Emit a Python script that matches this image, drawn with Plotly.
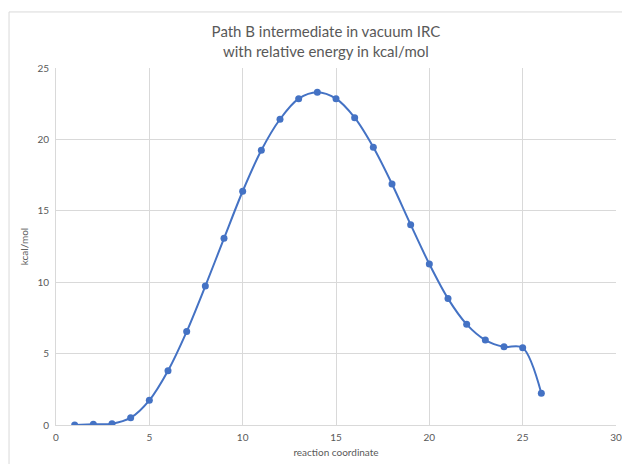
import plotly.graph_objects as go

# IRC steps and relative energies (kcal/mol)
steps = list(range(1, 27))
energy = [0.0, 0.05, 0.09, 0.51, 1.73, 3.80, 6.54, 9.73, 13.07, 16.37,
          19.24, 21.41, 22.85, 23.30, 22.85, 21.52, 19.45, 16.88, 14.03, 11.27,
          8.85, 7.05, 5.95, 5.48, 5.41, 2.22]

x_ticks = [0, 5, 10, 15, 20, 25, 30]
y_ticks = [0, 5, 10, 15, 20, 25]

title_lines = ["Path B intermediate in vacuum IRC", "with relative energy in kcal/mol"]

BLUE = "#4472C4"
GRID = "#d9d9d9"
TEXT = "#595959"
FONT = "Lato"

fig = go.Figure()
fig.add_trace(go.Scatter(
    x=steps, y=energy, mode="lines+markers",
    line=dict(color=BLUE, width=2, shape="spline", smoothing=0.9),
    marker=dict(color=BLUE, size=7),
    showlegend=False,
))

fig.update_layout(
    width=622, height=464,
    margin=dict(l=56, r=0, t=68, b=39),
    paper_bgcolor="white", plot_bgcolor="white",
    font=dict(family=FONT, color=TEXT),
    title=dict(text="<br>".join(title_lines), x=0.482, xref="paper",
               xanchor="center", y=0.92, yanchor="top", yref="container",
               font=dict(family=FONT, size=15, color=TEXT)),
    xaxis=dict(range=[0, 30], tickvals=x_ticks, showgrid=True, gridcolor=GRID,
               gridwidth=1, zeroline=False, showline=True, linecolor=GRID,
               mirror=False, ticks="", tickfont=dict(size=10, color=TEXT),
               ticklabeloverflow="allow", ticklabelstandoff=3,
               title=dict(text="reaction coordinate", standoff=6,
                          font=dict(size=10, color=TEXT))),
    yaxis=dict(range=[0, 25], tickvals=y_ticks, showgrid=True, gridcolor=GRID,
               gridwidth=1, zeroline=False, showline=True, linecolor=GRID,
               ticks="", ticklen=0, tickfont=dict(size=10, color=TEXT),
               ticklabelstandoff=4,
               title=dict(text="kcal/mol", standoff=6,
                          font=dict(size=10, color=TEXT))),
)

# chart area outline
fig.add_shape(type="rect", xref="paper", yref="paper",
              x0=-0.0839, x1=1.05, y0=-0.2, y1=1.157,
              line=dict(color="#d9d9d9", width=1), layer="above")

fig.write_html("out.html")
